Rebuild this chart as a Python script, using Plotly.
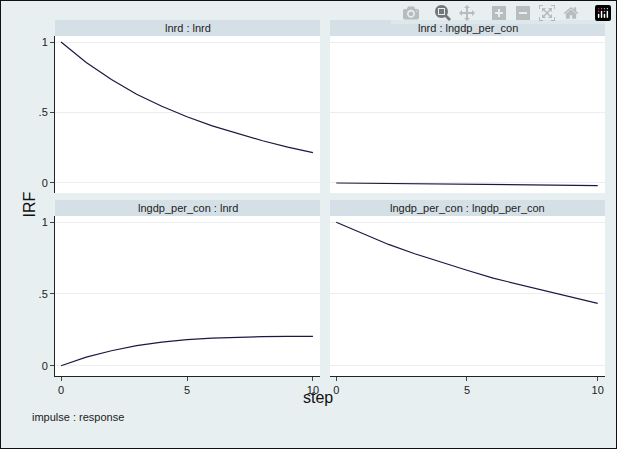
import plotly.graph_objects as go

steps = list(range(11))
lnrd_lnrd = [1, 0.855, 0.735, 0.63, 0.545, 0.47, 0.405, 0.35, 0.3, 0.255, 0.215]
lnrd_lngdp = [0, -0.002, -0.005, -0.008, -0.01, -0.012, -0.014, -0.015, -0.016, -0.017, -0.018]
lngdp_lnrd = [0, 0.06, 0.105, 0.14, 0.165, 0.182, 0.193, 0.2, 0.203, 0.205, 0.205]
lngdp_lngdp = [1, 0.92, 0.845, 0.78, 0.72, 0.665, 0.61, 0.565, 0.52, 0.475, 0.435]
titles = ["lnrd : lnrd", "lnrd : lngdp_per_con", "lngdp_per_con : lnrd", "lngdp_per_con : lngdp_per_con"]
series = [lnrd_lnrd, lnrd_lngdp, lngdp_lnrd, lngdp_lngdp]

W, H = 617, 449
fx = lambda p: p / W
fy = lambda p: 1 - p / H

panels = [(55, 320, 36, 193), (330, 605, 36, 193), (55, 320, 216, 376), (330, 605, 216, 376)]
fig = go.Figure()
shapes, annotations = [], []
font = dict(family="Liberation Sans, Arial", color="#222", size=11)

for i, (x0, x1, y0, y1) in enumerate(panels):
    n = "" if i == 0 else str(i + 1)
    fig.add_trace(go.Scatter(x=steps, y=series[i], mode="lines", line=dict(color="#1a1a40", width=1.2),
                             xaxis="x" + n, yaxis="y" + n, showlegend=False))
    left = i in (0, 2)
    bottom = i in (2, 3)
    fig.layout["xaxis" + n] = dict(domain=[fx(x0), fx(x1)], range=[-0.24, 10.28], anchor="y" + n,
                                   tickvals=[0, 5, 10], showticklabels=bottom, ticks="outside" if bottom else "",
                                   ticklen=4, showgrid=False, zeroline=False, tickfont=font,
                                   showline=bottom, linecolor="#222", linewidth=1)
    fig.layout["yaxis" + n] = dict(domain=[fy(y1), fy(y0)], range=[-0.071, 1.043], anchor="x" + n,
                                   tickvals=[0, 0.5, 1], ticktext=["0", ".5", "1"], showticklabels=left,
                                   ticks="outside" if left else "", ticklen=4, gridcolor="#eaeef0",
                                   zeroline=False, tickfont=font, showline=left, linecolor="#222", linewidth=1)
    shapes.append(dict(type="rect", xref="paper", yref="paper", x0=fx(x0), x1=fx(x1), y0=fy(y0), y1=fy(y0 - 16),
                       fillcolor="#d5e0e6", line=dict(width=0), layer="below"))
    shapes.append(dict(type="rect", xref="paper", yref="paper", x0=fx(x0), x1=fx(x1), y0=fy(y1), y1=fy(y0),
                       fillcolor="white", line=dict(width=0), layer="below"))
    annotations.append(dict(text=titles[i], xref="paper", yref="paper", x=(fx(x0) + fx(x1)) / 2, y=fy(y0 - 8),
                            showarrow=False, font=font, xanchor="center", yanchor="middle"))

shapes.append(dict(type="rect", xref="paper", yref="paper", x0=0, x1=1, y0=0, y1=1,
                   line=dict(color="#111", width=2), layer="above"))
annotations += [
    dict(text="IRF", xref="paper", yref="paper", x=fx(18), y=fy(205), textangle=-90, showarrow=False,
         font=dict(family="Liberation Sans, Arial", size=16, color="#111")),
    dict(text="step", xref="paper", yref="paper", x=fx(318), y=fy(408), showarrow=False,
         font=dict(family="Liberation Sans, Arial", size=16, color="#111")),
    dict(text="impulse : response", xref="paper", yref="paper", x=fx(30), y=fy(425), xanchor="left",
         showarrow=False, font=font),
]

fig.update_layout(width=W, height=H, margin=dict(l=0, r=0, t=0, b=0), paper_bgcolor="#e8eff1",
                  plot_bgcolor="rgba(0,0,0,0)", shapes=shapes, annotations=annotations)
fig.write_html("out.html")

# drop the default body margin so the figure fits the window exactly
with open("out.html") as f:
    html = f.read()
html = html.replace("<body>", '<body style="margin:0;overflow:hidden">', 1)
with open("out.html", "w") as f:
    f.write(html)
